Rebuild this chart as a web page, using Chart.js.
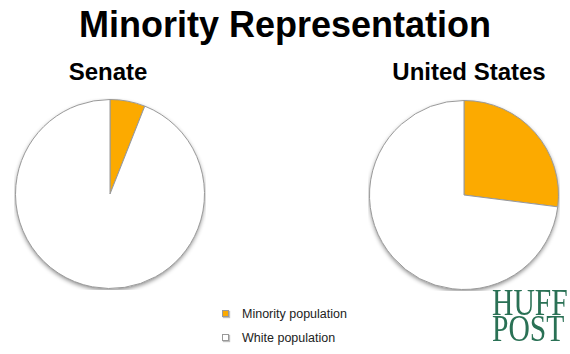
<!DOCTYPE html>
<html>
<head>
<meta charset="utf-8">
<script src="https://cdn.jsdelivr.net/npm/chart.js@4"></script>
<style>
  body { margin: 0; background: #fff; font-family: "Liberation Sans", Arial, sans-serif; }
  #wrap { position: relative; width: 570px; height: 354px; overflow: hidden; }
  .title { position: absolute; left: 0; width: 570px; top: 4px; text-align: center; font-weight: bold; font-size: 36px; color: #000; }
  .sub { position: absolute; top: 58px; font-weight: bold; font-size: 24px; color: #000; text-align: center; width: 200px; }
  .pie { position: absolute; width: 192px; height: 192px; }
  #legend { position: absolute; left: 222px; top: 306px; font-size: 12.5px; color: #222; }
  #legend div { height: 24px; line-height: 16px; }
  #legend span.box { display: inline-block; width: 5px; height: 5px; border: 1px solid #999; margin-right: 13px; vertical-align: 1px; box-shadow: 1px 1px 1px rgba(0,0,0,0.25); }
  #logo { position: absolute; left: 492px; top: 290px; font-family: "Liberation Serif", "Times New Roman", serif; font-size: 37px; line-height: 26px; color: #2a7155; transform: scaleX(0.8); transform-origin: left top; }
</style>
</head>
<body>
<div id="wrap">
  <div class="title">Minority Representation</div>
  <div class="sub" style="left:8px">Senate</div>
  <div class="sub" style="left:369px">United States</div>
  <div class="pie" style="left:14px; top:98px"><canvas id="senate" width="192" height="192"></canvas></div>
  <div class="pie" style="left:368px; top:99px"><canvas id="us" width="192" height="192"></canvas></div>
  <div id="legend"></div>
  <div id="logo">HUFF<br>POST</div>
</div>
<script>
const categories = ["Minority population", "White population"];
const senateValues = [6, 94];
const usValues = [27, 73];
const colors = ["#fcaa00", "#ffffff"];

// soft shadow under each pie
const pieShadow = {
  id: "pieShadow",
  beforeDatasetsDraw(chart) {
    const arc = chart.getDatasetMeta(0).data[0];
    if (!arc) return;
    const ctx = chart.ctx;
    ctx.save();
    ctx.shadowColor = "rgba(0,0,0,0.45)";
    ctx.shadowBlur = 4;
    ctx.shadowOffsetY = 2;
    ctx.beginPath();
    ctx.arc(arc.x, arc.y, arc.outerRadius, 0, Math.PI * 2);
    ctx.fillStyle = "#fff";
    ctx.fill();
    ctx.restore();
  }
};

function makePie(id, values) {
  new Chart(document.getElementById(id), {
    type: "pie",
    data: {
      labels: categories,
      datasets: [{
        data: values,
        backgroundColor: colors,
        borderColor: "#999999",
        borderWidth: 1
      }]
    },
    options: {
      responsive: false,
      animation: false,
      layout: { padding: 1 },
      plugins: { legend: { display: false }, tooltip: { enabled: false } }
    },
    plugins: [pieShadow]
  });
}

makePie("senate", senateValues);
makePie("us", usValues);

const legend = document.getElementById("legend");
categories.forEach((c, i) => {
  const row = document.createElement("div");
  row.innerHTML = '<span class="box" style="background:' + colors[i] + '"></span>' + c;
  legend.appendChild(row);
});
</script>
</body>
</html>
